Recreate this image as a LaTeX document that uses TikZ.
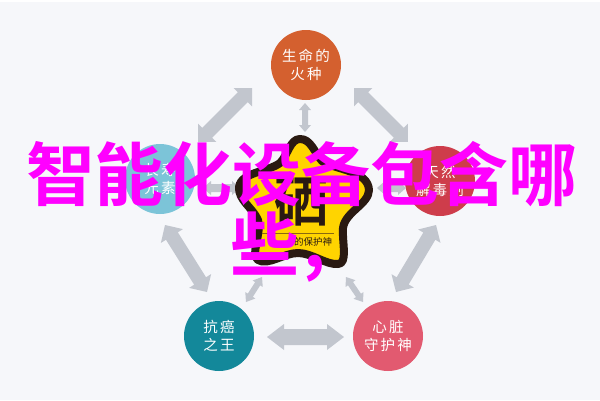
\documentclass[tikz,border=0pt]{standalone}
\usepackage{fontspec}
\setmainfont{Noto Sans CJK SC}[BoldFont={Noto Sans CJK SC Bold}]
\newfontfamily\spaced{Noto Sans CJK SC}[LetterSpace=14]
\usetikzlibrary{calc}
\definecolor{bgc}{HTML}{F6F7FA}
\definecolor{arrowc}{HTML}{C2C6CE}
\definecolor{orangec}{HTML}{D4602F}
\definecolor{bluec}{HTML}{7CC4D8}
\definecolor{redc}{HTML}{CE3D4B}
\definecolor{tealc}{HTML}{13889A}
\definecolor{pinkc}{HTML}{E25A70}
\definecolor{starc}{HTML}{FFD400}
\definecolor{outlinec}{HTML}{2A1A12}
\definecolor{rulec}{HTML}{8A6A10}
\definecolor{magc}{HTML}{FF00FF}
\tikzset{
  x=1pt,y=-1pt,
  disc/.style={circle,minimum size=70pt,inner sep=0pt,text=white,align=center,font=\fontsize{14.5}{18}\spaced},
  dblarrow/.style={fill=arrowc,draw=none},
  overlay text/.style={text=magc,font=\fontsize{69}{69}\selectfont\bfseries,inner sep=0pt,anchor=center}
}
% double block arrow between two named coordinates
\newcommand{\dbl}[5]{% from, to, half shaft, half head, head length
  \path[dblarrow] let \p1=(#1),\p2=(#2),\n1={atan2(\y2-\y1,\x2-\x1)},\n2={veclen(\y2-\y1,\x2-\x1)} in
   [shift={(\p1)},rotate=\n1,y=1pt]
   (0,0) -- (#5,#4) -- (#5,#3) -- (\n2-#5,#3) -- (\n2-#5,#4) -- (\n2,0)
   -- (\n2-#5,-#4) -- (\n2-#5,-#3) -- (#5,-#3) -- (#5,-#4) -- cycle;}
\begin{document}
\begin{tikzpicture}
\useasboundingbox (0,0) rectangle (600,400);
\fill[bgc] (0,0) rectangle (600,400);
\fill[white] (0,0) rectangle (600,2);
\node[disc,fill=orangec] (top) at (306,65) {生命的\\火种};
\node[disc,fill=bluec] (left) at (160,179) {长寿\\元素};
\node[disc,fill=redc] (right) at (440,181) {天然\\解毒剂};
\node[disc,fill=tealc] (bl) at (219,336) {抗癌\\之王};
\node[disc,fill=pinkc] (br) at (388,336) {心脏\\守护神};
\coordinate (a1) at (252,88); \coordinate (a2) at (198,142);
\coordinate (b1) at (354,88); \coordinate (b2) at (408,142);
\coordinate (c1) at (305,103); \coordinate (c2) at (305,132);
\coordinate (d1) at (165,225); \coordinate (d2) at (207,292);
\coordinate (e1) at (436,225); \coordinate (e2) at (396,292);
\coordinate (f1) at (262,277); \coordinate (f2) at (246,302);
\coordinate (g1) at (346,277); \coordinate (g2) at (363,302);
\coordinate (h1) at (267,337); \coordinate (h2) at (344,337);
\coordinate (i1) at (203,188); \coordinate (i2) at (240,188);
\coordinate (j1) at (377,188); \coordinate (j2) at (406,188);
\dbl{a1}{a2}{7}{13}{13}
\dbl{b1}{b2}{7}{13}{13}
\dbl{c1}{c2}{3}{6}{7}
\dbl{d1}{d2}{7}{13}{13}
\dbl{e1}{e2}{7}{13}{13}
\dbl{f1}{f2}{3}{6}{8}
\dbl{g1}{g2}{3}{6}{8}
\dbl{h1}{h2}{8}{13}{17}
\dbl{i1}{i2}{4}{7}{8}
\dbl{j1}{j2}{4}{7}{8}
% star
\path[fill=starc,draw=outlinec,line width=8pt,line join=round]
 (300,139) .. controls (311,139) and (314,152) .. (322,161)
 .. controls (335,170) and (368,170) .. (369,190)
 .. controls (369,204) and (345,212) .. (343,228)
 .. controls (342,242) and (348,264) .. (338,264)
 .. controls (326,265) and (312,253) .. (298,253)
 .. controls (284,253) and (268,266) .. (258,260)
 .. controls (250,255) and (262,232) .. (258,220)
 .. controls (253,208) and (238,200) .. (239,187)
 .. controls (241,172) and (268,172) .. (280,163)
 .. controls (288,155) and (290,139) .. (300,139) -- cycle;
\node[text=outlinec,font=\fontsize{54}{54}\selectfont\bfseries,inner sep=0pt] (big) at (301,202) {硒};
\draw[rulec,line width=.7pt] (262,233) -- (334,233);
\node[text=outlinec,font=\fontsize{9.5}{10}\selectfont,inner sep=0pt] (sub) at (313,242) {的保护神};
% overlay
\node[overlay text] (l1) at (302,174) {智能化设备包含哪};
\node[overlay text] (l2) at (265,244) {些};
\node[overlay text] (l3) at (315,269) {,};
\end{tikzpicture}
\end{document}
